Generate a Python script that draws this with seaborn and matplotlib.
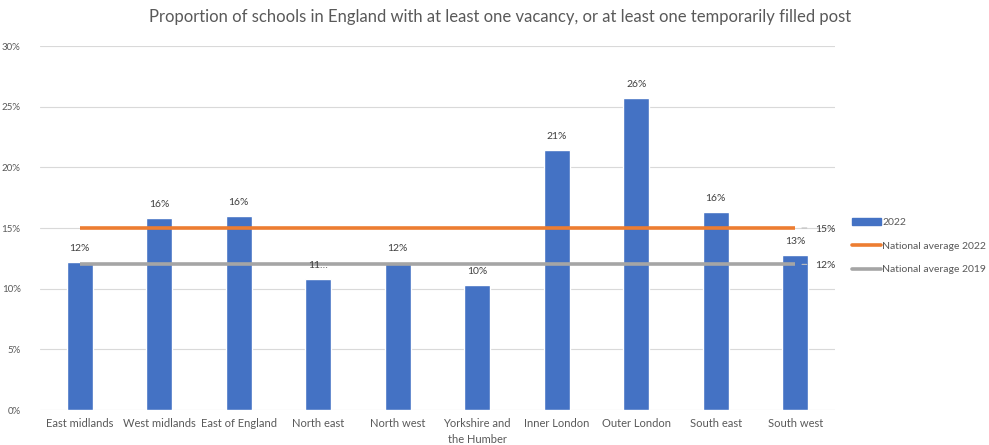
import numpy as np
import pandas as pd
import matplotlib
matplotlib.use("Agg")
import matplotlib.pyplot as plt
import seaborn as sns
from matplotlib.patches import Patch
from matplotlib.lines import Line2D

regions = ["East midlands", "West midlands", "East of England", "North east", "North west",
           "Yorkshire and\nthe Humber", "Inner London", "Outer London", "South east", "South west"]
values_2022 = [12.2, 15.8, 16.0, 10.8, 12.2, 10.3, 21.4, 25.7, 16.3, 12.8]
bar_labels = ["12%", "16%", "16%", "11…", "12%", "10%", "21%", "26%", "16%", "13%"]
nat_avg_2022 = 15.0
nat_avg_2019 = 12.0
y_ticks = [0, 5, 10, 15, 20, 25, 30]
title = "Proportion of schools in England with at least one vacancy, or at least one temporarily filled post"

sns.set_theme(style="white")
plt.rcParams['font.family'] = ['Lato', 'DejaVu Sans']

BLUE = "#4472C4"
ORANGE = "#ED7D31"
GREY = "#A5A5A5"
TXT = "#595959"

fig = plt.figure(figsize=(9.89, 4.45), dpi=100)
W, H = 989, 445
ax = fig.add_axes([40 / W, 1 - 410 / H, (835 - 40) / W, (410 - 46) / H])

df = pd.DataFrame({"region": regions, "value": values_2022})
sns.barplot(data=df, x="region", y="value", color=BLUE, saturation=1, width=0.33, ax=ax, zorder=2)

n = len(regions)
xs = np.arange(n)
ax.plot(xs, [nat_avg_2022] * n, color=ORANGE, lw=2.6, zorder=3, solid_capstyle="butt")
ax.plot(xs, [nat_avg_2019] * n, color=GREY, lw=2.6, zorder=3, solid_capstyle="butt")

for i, (v, lab) in enumerate(zip(values_2022, bar_labels)):
    ax.annotate(lab, (i, v), xytext=(0, 6.5), textcoords="offset points", ha="center", va="bottom",
                fontsize=7.5, color="#404040")

for val in (nat_avg_2022, nat_avg_2019):
    ax.annotate(f"{val:.0f}%", (n - 1, val), xytext=(14, -1), textcoords="offset points",
                ha="left", va="center", fontsize=7.5, color="#404040")
    ax.annotate("", (n - 1 + 0.05, val), xytext=(n - 1 + 0.18, val),
                arrowprops=dict(arrowstyle="-", color="#BFBFBF", lw=0.8))

ax.set_xlim(-0.5, n - 0.5)
ax.set_ylim(0, 30)
ax.set_yticks(y_ticks)
ax.set_yticklabels([f"{t}%" for t in y_ticks], fontsize=7, color=TXT)
ax.set_xticks(xs)
ax.set_xticklabels(regions, fontsize=8, color=TXT, linespacing=1.5)
ax.tick_params(axis="both", length=0, pad=6)
ax.tick_params(axis="y", pad=14)
ax.set_xlabel("")
ax.set_ylabel("")
ax.grid(axis="y", color="#D9D9D9", lw=0.8, zorder=0)
ax.set_axisbelow(True)
for s in ax.spines.values():
    s.set_visible(False)

fig.text(500 / W, 1 - 17 / H, title, ha="center", va="center", fontsize=12, color=TXT)

handles = [Patch(facecolor=BLUE, edgecolor=BLUE),
           Line2D([0], [0], color=ORANGE, lw=2.6),
           Line2D([0], [0], color=GREY, lw=2.6)]
labels = ["2022", "National average 2022", "National average 2019"]
fig.legend(handles, labels, loc="upper left", bbox_to_anchor=(848 / W, 1 - 214 / H),
           frameon=False, fontsize=7.5, labelcolor=TXT, handlelength=2.8, handleheight=0.6,
           handletextpad=0.1, labelspacing=1.4, borderaxespad=0)

fig.savefig("out.png", dpi=100)
